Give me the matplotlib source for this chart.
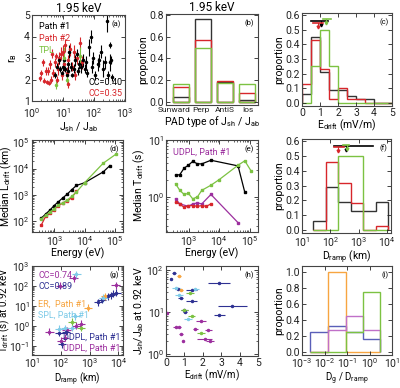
import numpy as np
import matplotlib.pyplot as plt

plt.rcParams['font.family'] = ['Roboto', 'DejaVu Sans']
plt.rcParams['mathtext.fontset'] = 'custom'
plt.rcParams['mathtext.rm'] = 'Roboto'
plt.rcParams['mathtext.it'] = 'Roboto'
plt.rcParams['font.size'] = 7.5
plt.rcParams['axes.linewidth'] = 0.8
plt.rcParams['axes.edgecolor'] = '#444444'

BLK = '#000000'
RED = '#d7262b'
GRN = '#7cc242'
PUR = '#9c2f9e'
DBL = '#2e3192'
ORG = '#f7a541'
LBL = '#7fcbe8'

# ---- (a) r_B vs Jsh/Jab
a_p1_x = [5.5, 6.5, 7.5, 8, 9, 10, 11, 12, 13, 14, 15, 16, 18, 20, 22, 25, 28, 30, 33, 38,
          45, 50, 55, 60, 70, 80, 85, 95, 110, 130, 150, 170, 200, 230, 260, 280, 320, 330, 380, 350]
a_p1_y = [2.2, 2.6, 2.9, 2.5, 2.3, 2.6, 2.9, 2.5, 2.2, 2.4, 2.7, 3.3, 2.6, 2.2, 2.5, 2.9, 3.2, 2.4, 2.7, 2.6,
          2.9, 2.5, 2.8, 2.3, 3.5, 4.0, 2.6, 3.0, 2.2, 2.7, 2.9, 3.3, 2.5, 2.8, 4.7, 2.2, 2.8, 3.6, 2.1, 2.9]
a_p1_e = [0.15, 0.15, 0.2, 0.15, 0.1, 0.2, 0.2, 0.15, 0.15, 0.2, 0.2, 0.3, 0.2, 0.1, 0.2, 0.25, 0.2, 0.2, 0.2, 0.3,
          0.3, 0.2, 0.3, 0.2, 0.4, 0.3, 0.3, 0.3, 0.2, 0.3, 0.3, 0.3, 0.4, 0.3, 0.5, 0.2, 0.4, 0.15, 0.15, 0.2]
a_p2_x = [1.8, 1.9, 2.2, 2.5, 2.8, 3.0, 3.3, 3.5, 3.8, 4.2, 4.5, 4.8, 5.5, 6, 6.5, 7, 7.5, 8.5, 9, 10,
          11, 12, 13, 14, 15, 17, 20, 22, 25, 28, 35, 40]
a_p2_y = [2.05, 2.3, 2.8, 1.95, 2.4, 1.9, 2.4, 1.85, 2.7, 2.0, 3.2, 2.3, 2.8, 3.1, 2.0, 2.5, 3.0, 3.2, 2.2, 3.3,
          2.7, 3.6, 2.3, 1.8, 2.9, 3.4, 2.6, 3.3, 2.2, 3.0, 3.7, 2.8]
a_p2_e = [0.1, 0.15, 0.15, 0.1, 0.2, 0.1, 0.2, 0.1, 0.2, 0.15, 0.2, 0.2, 0.2, 0.15, 0.15, 0.3, 0.3, 0.3, 0.2, 0.3,
          0.3, 0.3, 0.3, 0.2, 0.25, 0.3, 0.2, 0.3, 0.2, 0.3, 0.3, 0.3]
a_tpl_x = [6, 13, 11, 35]
a_tpl_y = [1.75, 2.0, 3.0, 3.1]
a_tpl_e = [0.2, 0.2, 0.5, 0.4]

# ---- (b) PAD type proportions
pad_types = ['Sunward', 'Perp', 'AntiS', 'Ios']
pad_p1 = [0.04, 0.76, 0.18, 0.02]
pad_p2 = [0.14, 0.57, 0.19, 0.08]
pad_tpl = [0.16, 0.50, 0.17, 0.16]

# ---- (c) E_drift histograms
edrift_edges = np.arange(0, 5.01, 0.5)
edrift_p1 = [0.06, 0.45, 0.21, 0.09, 0.09, 0.05, 0.03, 0.03, 0, 0]
edrift_p2 = [0.13, 0.43, 0.23, 0.03, 0.10, 0.03, 0.03, 0, 0, 0]
edrift_tpl = [0, 0.25, 0.50, 0.25, 0, 0, 0, 0, 0, 0]
edrift_med = {'p1': (1.04, 0.56, 0.52, 1.44), 'p2': (0.89, 0.55, 0.61, 1.17), 'tpl': (1.35, 0.575, 1.17, 1.63)}

# ---- (d) median L_drift vs energy
d_p1_E = [370, 510, 710, 980, 1360, 1950, 2700, 3800, 5400, 10000, 42000, 70000]
d_p1_L = [135, 190, 270, 400, 560, 800, 1100, 1600, 2300, 2900, 7500, 13000]
d_p2_E = [370, 510, 710, 980, 1360, 1950, 2700, 3800, 5400]
d_p2_L = [75, 155, 210, 280, 400, 500, 600, 800, 1400]
d_tpl_E = [370, 510, 710, 980, 1360, 1950, 2700, 3800, 5400, 10000, 42000, 115000]
d_tpl_L = [125, 170, 230, 300, 430, 510, 650, 900, 1300, 2900, 16000, 36000]

# ---- (e) median T_drift vs energy
e_p1_E = [370, 510, 710, 980, 1360, 1950, 2700, 5400, 42000, 70000]
e_p1_T = [2.4, 2.45, 3.2, 3.6, 4.2, 3.8, 3.8, 4.4, 3.5, 1.2]
e_p2_E = [370, 510, 710, 980, 1360, 1950, 2700, 3800, 5400]
e_p2_T = [0.8, 0.75, 0.65, 0.7, 0.7, 0.68, 0.7, 0.68, 0.75]
e_tpl_E = [370, 510, 710, 980, 1360, 1950, 2700, 5400, 10000, 42000, 70000, 115000]
e_tpl_T = [1.7, 1.3, 1.1, 1.15, 0.92, 1.0, 1.3, 1.6, 2.0, 3.6, 4.3, 2.8]
e_udpl_E = [370, 510, 980, 1360, 1950, 2700, 5400, 42000]
e_udpl_T = [0.92, 0.75, 0.68, 0.75, 0.78, 0.75, 1.1, 0.35]

# ---- (f) D_ramp histograms
dramp_edges = 10 ** np.array([1.4, 1.84, 2.28, 2.73, 3.17, 3.61, 4.05])
dramp_p1 = [0.06, 0.29, 0.19, 0.13, 0.13, 0.19]
dramp_p2 = [0, 0.46, 0.32, 0.18, 0, 0.03]
dramp_tpl = [0, 0, 0.5, 0.5, 0, 0]
dramp_med = {'p1': (350, 0.57, 138, 3300), 'p2': (180, 0.56, 138, 300), 'tpl': (400, 0.575, 290, 460)}

# ---- (g) T_drift vs D_ramp at 0.92 keV
g_udpl_x = [95, 280, 8000, 40, 100, 140, 160, 350, 500]
g_udpl_y = [100, 250, 110, 0.5, 0.18, 0.25, 0.6, 1.0, 1.3]
g_ddpl_x = [2000, 2600, 4500, 5500, 6500, 8500, 150, 90, 110]
g_ddpl_y = [15, 20, 30, 35, 40, 45, 0.5, 0.45, 0.12]
g_er_x = [3500, 900]
g_er_y = [30, 8]
g_spl_x = [350, 3000, 320, 140, 90, 250]
g_spl_y = [380, 25, 3, 0.75, 0.7, 0.8]
g_tpl_x = [250, 500]
g_tpl_y = [1.6, 0.8]

# ---- (h) Jsh/Jab vs E_drift at 0.92 keV
h_ddpl_x = [0.28, 0.45, 0.65, 0.8, 1.0, 1.4, 1.4, 2.9, 3.6, 2.9, 1.05]
h_ddpl_y = [60, 85, 35, 22, 11, 33, 18, 48, 14, 8.5, 10]
h_ddpl_xe = [0.05, 0.1, 0.15, 0.15, 0.2, 0.3, 0.3, 0.6, 0.8, 0.3, 0.1]
h_er_x = [0.7, 0.8]
h_er_y = [72, 33]
h_spl_x = [0.55, 0.7, 1.6, 1.2]
h_spl_y = [38, 25, 35, 7]
h_tpl_x = [1.3, 1.4, 1.0, 1.9]
h_tpl_y = [28, 8, 11, 3.2]
h_udpl_x = [0.05, 0.55, 0.7, 0.8, 1.6, 1.9, 2.3, 2.1, 2.4, 0.9]
h_udpl_y = [9.5, 4.5, 4.5, 3, 4, 6, 3.8, 2.3, 2, 2.1]
h_udpl_xe = [0.05, 0.15, 0.1, 0.1, 0.15, 0.25, 0.2, 0.4, 0.2, 0.05]

# ---- (i) D_g / D_ramp histograms
dg_edges = 10 ** np.array([-2.65, -1.85, -1.06, -0.3, 0.48])
dg_ddpl = [0.25, 0.33, 0.25, 0.16]
dg_er = [0, 1.0, 0, 0]
dg_udpl = [0, 0.27, 0.45, 0.27]
dg_tpl = [0, 0, 0.25, 0.75]

W, H = 400, 388
fig = plt.figure(figsize=(W / 100, H / 100), dpi=100)


def box(l, t, r, b):
    ax = fig.add_axes([l / W, (H - b) / H, (r - l) / W, (b - t) / H])
    ax.tick_params(which='both', direction='in', top=True, right=True, labelsize=7.5,
                   pad=1.5, colors='#222222')
    ax.tick_params(which='major', length=3, width=0.6)
    ax.tick_params(which='minor', length=1.6, width=0.5)
    return ax


def left_label(ax, s, px=14, size=7.5):
    # y label pinned to a pixel column (its right edge) so it stays inside the figure
    ax.set_ylabel(s, fontsize=size)
    p = ax.get_position()
    ax.yaxis.set_label_coords((px - p.x0 * W) / (p.width * W), 0.5)


def tag(ax, s):
    ax.text(0.96, 0.94, s, transform=ax.transAxes, ha='right', va='top', fontsize=5.5)


def small(ax, x, y, s, c, ha='left'):
    ax.text(x, y, s, color=c, transform=ax.transAxes, fontsize=6.5, ha=ha, va='top')


def med_bars(ax, med):
    for key, c in (('p1', BLK), ('p2', RED), ('tpl', GRN)):
        x, y, lo, hi = med[key]
        ax.plot([lo, hi], [y, y], color=c, lw=1.2)
        ax.plot([x, x], [y, y - 0.025], color=c, lw=0.8)
        ax.plot(x, y - 0.028, marker='v', ms=2, color=c)


def log_err(vals, f):
    v = np.asarray(vals, float)
    return [v - v / f, v * f - v]


def prop_axis(ax, top, step):
    ax.set_yticks(np.arange(0, top + 1e-6, step))
    ax.yaxis.set_major_formatter(plt.FormatStrFormatter('%.1f'))
    ax.set_ylabel('proportion', labelpad=1)


# (a)
ax = box(32, 15, 125, 101)
ax.errorbar(a_p2_x, a_p2_y, yerr=a_p2_e, fmt='o', ms=1.5, color=RED, elinewidth=0.8, capsize=0)
ax.errorbar(a_p1_x, a_p1_y, yerr=a_p1_e, fmt='o', ms=1.5, color=BLK, elinewidth=0.8, capsize=0)
ax.errorbar(a_tpl_x, a_tpl_y, yerr=a_tpl_e, fmt='o', ms=1.5, color=GRN, elinewidth=0.8, capsize=0)
ax.set_xscale('log')
ax.set_xlim(1, 1000)
ax.set_xticks([1, 10, 100, 1000])
ax.set_ylim(1, 5)
ax.set_yticks([1, 2, 3, 4, 5])
left_label(ax, 'r$_B$', 19)
ax.set_xlabel('J$_{sh}$ / J$_{ab}$', labelpad=0)
ax.tick_params(axis='x', pad=4)
ax.set_title('1.95 keV', fontsize=8.5, pad=2)
small(ax, 0.07, 0.92, 'Path #1', BLK)
small(ax, 0.07, 0.78, 'Path #2', RED)
small(ax, 0.07, 0.64, 'TPL', GRN)
small(ax, 0.97, 0.27, 'CC=0.40', BLK, 'right')
small(ax, 0.97, 0.14, 'CC=0.35', RED, 'right')
tag(ax, '(a)')

# (b)
ax = box(166, 14, 258, 105)
pos = np.arange(len(pad_types))
for vals, c in ((pad_p1, '#333333'), (pad_p2, RED), (pad_tpl, GRN)):
    ax.bar(pos, vals, width=0.75, facecolor='none', edgecolor=c, linewidth=1.0)
ax.set_xticks(pos + np.array([-0.3, -0.1, 0, 0.05]))
ax.set_xticklabels(pad_types, fontsize=6)
ax.tick_params(axis='x', which='both', length=0)
ax.set_xlim(-0.68, 3.5)
ax.set_ylim(-0.03, 0.81)
prop_axis(ax, 0.8, 0.2)
ax.set_xlabel('PAD type of J$_{sh}$ / J$_{ab}$', labelpad=1)
ax.set_title('1.95 keV', fontsize=8.5, pad=2)
tag(ax, '(b)')

# (c)
ax = box(302, 13, 392, 106)
ax.stairs(edrift_p1, edrift_edges, baseline=0, color='#333333', lw=1.0)
ax.stairs(edrift_p2, edrift_edges, baseline=0, color=RED, lw=1.0)
ax.stairs(edrift_tpl, edrift_edges, baseline=0, color=GRN, lw=1.0)
med_bars(ax, edrift_med)
ax.set_xlim(0, 5)
ax.set_xticks(range(6))
ax.set_ylim(-0.02, 0.615)
prop_axis(ax, 0.6, 0.1)
ax.set_xlabel('E$_{drift}$ (mV/m)', labelpad=0)
tag(ax, '(c)')

# (d)
ax = box(32, 140, 123, 232)
ax.plot(d_p2_E, d_p2_L, '-s', color=RED, ms=1.6, lw=0.9)
ax.plot(d_p1_E, d_p1_L, '-s', color=BLK, ms=1.6, lw=0.9)
ax.plot(d_tpl_E, d_tpl_L, '-s', color=GRN, ms=1.6, lw=0.9)
ax.set_xscale('log')
ax.set_yscale('log')
ax.set_xlim(180, 1.9e5)
ax.set_xticks([1e3, 1e4, 1e5])
ax.set_ylim(40, 1.2e5)
ax.set_yticks([1e2, 1e3, 1e4, 1e5])
left_label(ax, 'Median L$_{drift}$ (km)')
ax.set_xlabel('Energy (eV)', labelpad=0)
tag(ax, '(d)')

# (e)
ax = box(166, 140, 258, 232)
ax.plot(e_p1_E, e_p1_T, '-s', color=BLK, ms=1.6, lw=0.9)
ax.plot(e_tpl_E, e_tpl_T, '-s', color=GRN, ms=1.6, lw=0.9)
ax.plot(e_udpl_E, e_udpl_T, '-s', color=PUR, ms=1.6, lw=0.9)
ax.plot(e_p2_E, e_p2_T, '-s', color=RED, ms=1.6, lw=0.9)
ax.set_xscale('log')
ax.set_yscale('log')
ax.set_xlim(180, 1.9e5)
ax.set_xticks([1e3, 1e4, 1e5])
ax.set_ylim(0.24, 10)
ax.set_yticks([1, 10])
ax.set_ylabel('Median T$_{drift}$ (s)', labelpad=0)
ax.set_xlabel('Energy (eV)', labelpad=0)
small(ax, 0.08, 0.92, 'UDPL, Path #1', PUR)
tag(ax, '(e)')

# (f)
ax = box(302, 139, 391, 233)
ax.stairs(dramp_p1, dramp_edges, baseline=0, color='#333333', lw=1.0)
ax.stairs(dramp_p2, dramp_edges, baseline=0, color=RED, lw=1.0)
ax.stairs(dramp_tpl, dramp_edges, baseline=0, color=GRN, lw=1.0)
med_bars(ax, dramp_med)
ax.set_xscale('log')
ax.set_xlim(10, 1.4e4)
ax.set_xticks([10, 100, 1000, 1e4])
ax.set_ylim(-0.02, 0.615)
prop_axis(ax, 0.6, 0.1)
ax.set_xlabel('D$_{ramp}$ (km)', labelpad=0)
tag(ax, '(f)')

# (g)
ax = box(32, 266, 123, 355)
for xs, ys, c in ((g_udpl_x, g_udpl_y, PUR), (g_ddpl_x, g_ddpl_y, DBL), (g_er_x, g_er_y, ORG),
                  (g_spl_x, g_spl_y, LBL), (g_tpl_x, g_tpl_y, GRN)):
    ax.errorbar(xs, ys, xerr=log_err(xs, 1.4), yerr=log_err(ys, 1.5), fmt='o', ms=1.5,
                color=c, elinewidth=0.8, capsize=0)
ax.set_xscale('log')
ax.set_yscale('log')
ax.set_xlim(10, 1.45e4)
ax.set_xticks([10, 100, 1000, 1e4])
ax.set_ylim(0.035, 1000)
ax.set_yticks([0.1, 1, 10, 100, 1000])
ax.tick_params(axis='x', pad=1)
left_label(ax, 'T$_{drift}$ (s) at 0.92 keV', 12.5, 7)
ax.set_xlabel('D$_{ramp}$ (km)', labelpad=0, fontsize=7)
small(ax, 0.07, 0.94, 'CC=0.74', PUR)
small(ax, 0.07, 0.82, 'CC=0.89', DBL)
small(ax, 0.07, 0.62, 'ER,  Path #1', ORG)
small(ax, 0.07, 0.50, 'SPL, Path #1', LBL)
small(ax, 0.97, 0.25, 'DDPL, Path #1', DBL, 'right')
small(ax, 0.97, 0.13, 'UDPL, Path #1', PUR, 'right')
tag(ax, '(g)')

# (h)
ax = box(166, 266, 258, 356)
ax.errorbar(h_ddpl_x, h_ddpl_y, xerr=h_ddpl_xe, fmt='o', ms=1.5, color=DBL, elinewidth=0.8, capsize=0)
ax.errorbar(h_er_x, h_er_y, xerr=0.1, fmt='o', ms=1.5, color=ORG, elinewidth=0.8, capsize=0)
ax.errorbar(h_spl_x, h_spl_y, xerr=0.2, fmt='o', ms=1.5, color=LBL, elinewidth=0.8, capsize=0)
ax.errorbar(h_tpl_x, h_tpl_y, xerr=0.2, fmt='o', ms=1.5, color=GRN, elinewidth=0.8, capsize=0)
ax.errorbar(h_udpl_x, h_udpl_y, xerr=h_udpl_xe, fmt='o', ms=1.5, color=PUR, elinewidth=0.8, capsize=0)
ax.set_yscale('log')
ax.set_xlim(0, 5)
ax.set_xticks(range(6))
ax.set_ylim(0.9, 125)
ax.set_yticks([1, 10, 100])
ax.set_ylabel('J$_{sh}$/J$_{ab}$ at 0.92 keV', labelpad=0)
ax.set_xlabel('E$_{drift}$ (mV/m)', labelpad=0, fontsize=7)
tag(ax, '(h)')

# (i)
ax = box(302, 266, 392, 355)
ax.stairs(dg_ddpl, dg_edges, baseline=0, color='#5a5fb8', lw=1.0)
ax.stairs(dg_er, dg_edges, baseline=0, color=ORG, lw=1.0)
ax.stairs(dg_udpl, dg_edges, baseline=0, color='#c070c8', lw=1.0)
ax.stairs(dg_tpl, dg_edges, baseline=0, color=GRN, lw=1.0)
ax.set_xscale('log')
ax.set_xlim(1e-3, 10)
ax.set_xticks([1e-3, 1e-2, 1e-1, 1, 10])
ax.tick_params(axis='x', pad=1)
ax.set_ylim(-0.04, 1.08)
prop_axis(ax, 1.0, 0.2)
ax.set_xlabel('D$_g$ / D$_{ramp}$', labelpad=0, fontsize=7)
tag(ax, '(i)')

fig.savefig('out.png', dpi=100)
